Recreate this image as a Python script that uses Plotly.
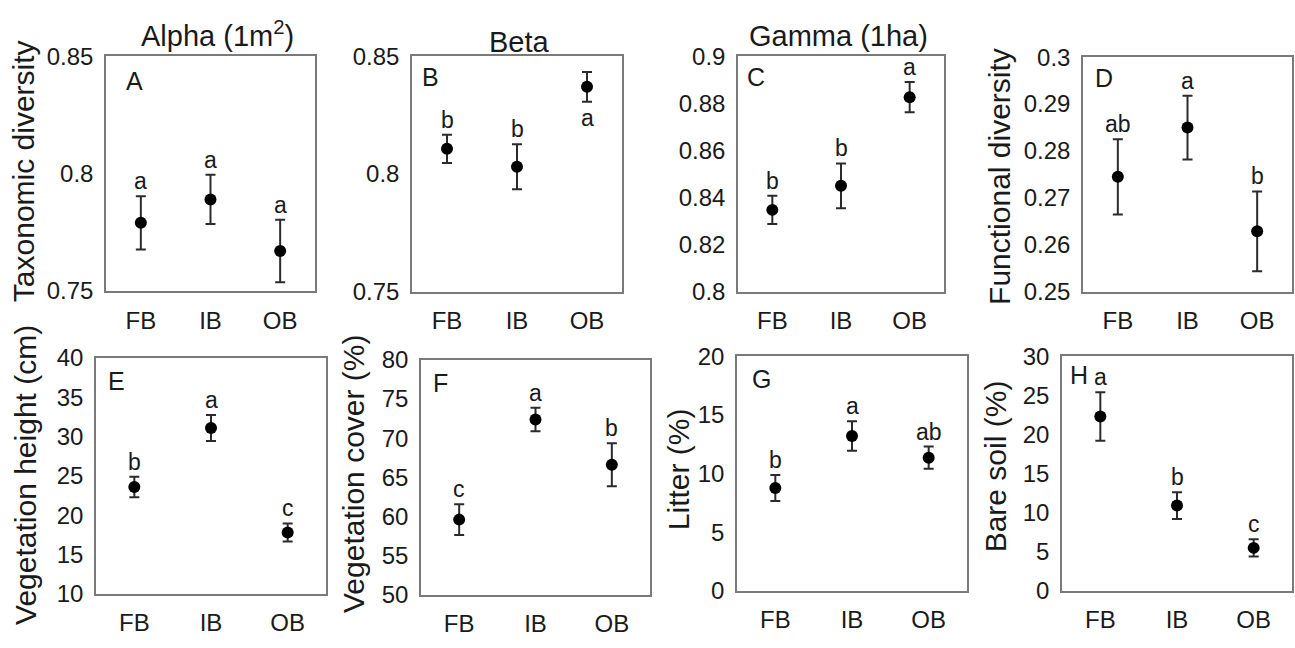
import plotly.graph_objects as go

W, H = 1295, 648
FONT = "Arial, 'Liberation Sans', Helvetica, sans-serif"
TXT = "#1a1a1a"


def px(x):
    return x / W


def py(y):
    return 1 - y / H


categories = ["FB", "IB", "OB"]
cat_pos = [1, 2, 3]

# ---- data ----
alpha_mean = [0.779, 0.789, 0.767]
alpha_se = [0.0113, 0.0105, 0.0133]
alpha_letters = ["a", "a", "a"]

beta_mean = [0.8107, 0.8031, 0.8370]
beta_se = [0.0060, 0.0095, 0.0063]
beta_letters = ["b", "b", "a"]

gamma_mean = [0.8348, 0.8450, 0.8826]
gamma_se = [0.0060, 0.0095, 0.0064]
gamma_letters = ["b", "b", "a"]

func_mean = [0.2745, 0.2850, 0.2629]
func_se = [0.0080, 0.0068, 0.0085]
func_letters = ["ab", "a", "b"]

height_mean = [23.6, 31.1, 17.8]
height_se = [1.3, 1.65, 1.15]
height_letters = ["b", "a", "c"]

cover_mean = [59.6, 72.4, 66.6]
cover_se = [1.95, 1.5, 2.75]
cover_letters = ["c", "a", "b"]

litter_mean = [8.77, 13.2, 11.35]
litter_se = [1.1, 1.25, 0.95]
litter_letters = ["b", "a", "ab"]

soil_mean = [22.3, 10.9, 5.5]
soil_se = [3.1, 1.7, 1.1]
soil_letters = ["a", "b", "c"]

# tick labels
ticks_div = [0.75, 0.8, 0.85]
ticks_div_text = ["0.75", "0.8", "0.85"]
ticks_gamma = [0.8, 0.82, 0.84, 0.86, 0.88, 0.9]
ticks_gamma_text = ["0.8", "0.82", "0.84", "0.86", "0.88", "0.9"]
ticks_func = [0.25, 0.26, 0.27, 0.28, 0.29, 0.3]
ticks_func_text = ["0.25", "0.26", "0.27", "0.28", "0.29", "0.3"]
ticks_height = [10, 15, 20, 25, 30, 35, 40]
ticks_cover = [50, 55, 60, 65, 70, 75, 80]
ticks_litter = [0, 5, 10, 15, 20]
ticks_soil = [0, 5, 10, 15, 20, 25, 30]

column_titles = ["Alpha (1m<sup>2</sup>)", "Beta", "Gamma (1ha)"]

panels = [
    dict(tag="A", mean=alpha_mean, se=alpha_se, letters=alpha_letters, below=[False] * 3,
         yr=[0.75, 0.85], tv=ticks_div, tt=ticks_div_text, box=(106, 315, 44, 289),
         ytitle="Taxonomic diversity", ytpos=(23, 164), tagpos=(124, 70)),
    dict(tag="B", mean=beta_mean, se=beta_se, letters=beta_letters, below=[False, False, True],
         yr=[0.75, 0.85], tv=ticks_div, tt=ticks_div_text, box=(412, 622, 44, 290),
         ytitle=None, ytpos=None, tagpos=(420, 66)),
    dict(tag="C", mean=gamma_mean, se=gamma_se, letters=gamma_letters, below=[False] * 3,
         yr=[0.8, 0.9], tv=ticks_gamma, tt=ticks_gamma_text, box=(738, 944, 44, 290),
         ytitle=None, ytpos=None, tagpos=(745, 66)),
    dict(tag="D", mean=func_mean, se=func_se, letters=func_letters, below=[False] * 3,
         yr=[0.25, 0.3], tv=ticks_func, tt=ticks_func_text, box=(1083, 1292, 45, 290),
         ytitle="Functional diversity", ytpos=(1000, 170), tagpos=(1093, 67)),
    dict(tag="E", mean=height_mean, se=height_se, letters=height_letters, below=[False] * 3,
         yr=[10, 40], tv=ticks_height, tt=[str(v) for v in ticks_height], box=(96, 326, 359, 605),
         ytitle="Vegetation height (cm)", ytpos=(26, 481), tagpos=(106, 383)),
    dict(tag="F", mean=cover_mean, se=cover_se, letters=cover_letters, below=[False] * 3,
         yr=[50, 80], tv=ticks_cover, tt=[str(v) for v in ticks_cover], box=(421, 650, 361, 606),
         ytitle="Vegetation cover (%)", ytpos=(353, 480), tagpos=(431, 385)),
    dict(tag="G", mean=litter_mean, se=litter_se, letters=litter_letters, below=[False] * 3,
         yr=[0, 20], tv=ticks_litter, tt=[str(v) for v in ticks_litter], box=(737, 967, 357, 602),
         ytitle="Litter (%)", ytpos=(678, 475), tagpos=(750, 381)),
    dict(tag="H", mean=soil_mean, se=soil_se, letters=soil_letters, below=[False] * 3,
         yr=[0, 30], tv=ticks_soil, tt=[str(v) for v in ticks_soil], box=(1062, 1292, 357, 602),
         ytitle="Bare soil (%)", ytpos=(995, 472), tagpos=(1068, 377)),
]

fig = go.Figure()
annotations = []
layout = {}

for i, p in enumerate(panels, start=1):
    xa = "x" if i == 1 else f"x{i}"
    ya = "y" if i == 1 else f"y{i}"
    l, r, t, b = p["box"]
    fig.add_trace(go.Scatter(
        x=cat_pos, y=p["mean"], mode="markers", xaxis=xa, yaxis=ya,
        marker=dict(color="black", size=12),
        error_y=dict(type="data", array=p["se"], visible=True, color="#2b2b2b",
                     thickness=2, width=5),
        showlegend=False, hoverinfo="skip",
    ))
    layout["xaxis" if i == 1 else f"xaxis{i}"] = dict(
        domain=[px(l), px(r)], anchor=ya, range=[0.5, 3.5],
        tickmode="array", tickvals=cat_pos, ticktext=categories,
        showline=True, mirror=True, linecolor="#7a7a7a", linewidth=1.5,
        ticks="", ticklabelstandoff=7, showgrid=False, zeroline=False,
        tickfont=dict(family=FONT, size=24, color=TXT),
    )
    layout["yaxis" if i == 1 else f"yaxis{i}"] = dict(
        domain=[py(b), py(t)], anchor=xa, range=p["yr"],
        tickmode="array", tickvals=p["tv"], ticktext=p["tt"],
        showline=True, mirror=True, linecolor="#7a7a7a", linewidth=1.5,
        ticks="", ticklabelstandoff=6, showgrid=False, zeroline=False,
        tickfont=dict(family=FONT, size=24, color=TXT),
    )
    # significance letters
    for xv, m, s, let, bel in zip(cat_pos, p["mean"], p["se"], p["letters"], p["below"]):
        annotations.append(dict(
            x=xv, y=(m - s) if bel else (m + s), xref=xa, yref=ya,
            text=let, showarrow=False, yanchor="top" if bel else "bottom",
            font=dict(family=FONT, size=23, color=TXT), yshift=-1 if bel else 0,
        ))
    # panel tag
    annotations.append(dict(
        x=px(p["tagpos"][0]), y=py(p["tagpos"][1]), xref="paper", yref="paper",
        text=p["tag"], showarrow=False, xanchor="left", yanchor="middle",
        font=dict(family=FONT, size=25, color=TXT),
    ))
    if p["ytitle"]:
        annotations.append(dict(
            x=px(p["ytpos"][0]), y=py(p["ytpos"][1]), xref="paper", yref="paper",
            text=p["ytitle"], showarrow=False, textangle=-90,
            xanchor="center", yanchor="middle",
            font=dict(family=FONT, size=30, color=TXT),
        ))

for txt, (cx, cy) in zip(column_titles, [(217, 21), (519, 29), (838, 23)]):
    annotations.append(dict(
        x=px(cx), y=py(cy), xref="paper", yref="paper", text=txt,
        showarrow=False, xanchor="center", yanchor="middle",
        font=dict(family=FONT, size=29, color=TXT),
    ))

fig.update_layout(
    width=W, height=H, autosize=False,
    margin=dict(l=0, r=0, t=0, b=0),
    paper_bgcolor="white", plot_bgcolor="white",
    annotations=annotations, **layout,
)

fig.write_html("out.html")
